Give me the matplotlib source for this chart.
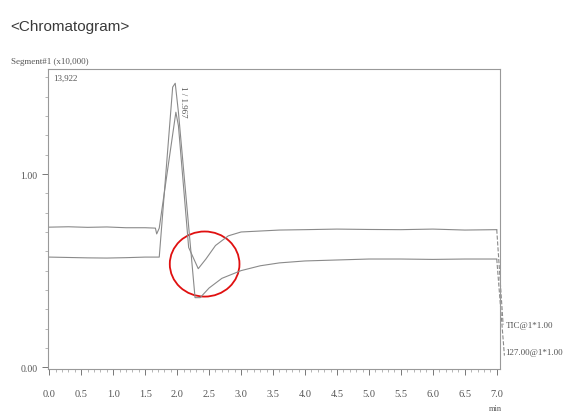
import matplotlib
matplotlib.use('Agg')
import matplotlib.pyplot as plt
from matplotlib.patches import Ellipse
from matplotlib.ticker import MultipleLocator

# TIC trace (upper baseline), x10,000
tic_t = [0.0, 0.3, 0.6, 0.9, 1.2, 1.5, 1.66, 1.68, 1.72, 1.98, 2.02, 2.18, 2.33, 2.45,
         2.6, 2.8, 3.0, 3.3, 3.6, 4.0, 4.5, 5.0, 5.5, 6.0, 6.5, 7.0]
tic_v = [0.725, 0.727, 0.724, 0.726, 0.722, 0.722, 0.72, 0.69, 0.72, 1.32, 1.25, 0.62, 0.51, 0.56,
         0.63, 0.68, 0.70, 0.705, 0.71, 0.712, 0.715, 0.713, 0.712, 0.715, 0.71, 0.712]
tic_end_t = [7.0, 7.1]
tic_end_v = [0.712, 0.22]

# 127.00 trace (lower baseline)
ion_t = [0.0, 0.3, 0.6, 0.9, 1.2, 1.5, 1.72, 1.93, 1.97, 2.02, 2.28, 2.36, 2.5, 2.7,
         3.0, 3.3, 3.6, 4.0, 4.5, 5.0, 5.5, 6.0, 6.5, 7.0]
ion_v = [0.57, 0.568, 0.566, 0.565, 0.567, 0.57, 0.57, 1.45, 1.47, 1.32, 0.36, 0.36, 0.41, 0.46,
         0.50, 0.525, 0.54, 0.55, 0.555, 0.56, 0.56, 0.558, 0.56, 0.56]
ion_end_t = [7.0, 7.12]
ion_end_v = [0.56, 0.06]

x_ticks = [0.0, 0.5, 1.0, 1.5, 2.0, 2.5, 3.0, 3.5, 4.0, 4.5, 5.0, 5.5, 6.0, 6.5, 7.0]
y_ticks = [0.0, 1.0]

fig = plt.figure(figsize=(5.63, 4.14), dpi=100)
ax = fig.add_axes([0.0853, 0.106, 0.8027, 0.725])
serif = ['Liberation Serif', 'DejaVu Serif']
col = '#8a8a8a'

ax.plot(tic_t, tic_v, color=col, lw=0.8)
ax.plot(ion_t, ion_v, color=col, lw=0.8)
ax.plot(tic_end_t, tic_end_v, color=col, lw=0.8, ls='--', clip_on=False)
ax.plot(ion_end_t, ion_end_v, color=col, lw=0.8, ls='--', clip_on=False)

ax.add_patch(Ellipse((2.43, 0.534), 1.09, 0.337, fill=False, ec='#e01010', lw=1.3))

ax.set_xlim(-0.02, 7.05)
ax.set_ylim(-0.01, 1.544)
ax.set_xticks(x_ticks)
ax.set_xticklabels(['%.1f' % v for v in x_ticks], family=serif, fontsize=7.5, color='#555555')
ax.set_yticks(y_ticks)
ax.set_yticklabels(['0.00', '1.00'], family=serif, fontsize=7, color='#555555')
ax.xaxis.set_minor_locator(MultipleLocator(0.1))
ax.yaxis.set_minor_locator(MultipleLocator(0.1))
ax.tick_params(which='major', length=4, width=0.7, color='#777777')
ax.tick_params(which='minor', length=2, width=0.5, color='#999999')
ax.tick_params(axis='x', which='major', pad=10)
for s in ax.spines.values():
    s.set_color('#999999')
    s.set_linewidth(0.8)

fig.text(0.018, 0.925, '<Chromatogram>', family='Liberation Sans', fontsize=11,
         color='#3a3a3a')
fig.text(0.02, 0.845, 'Segment#1 (x10,000)', family=serif, fontsize=6.5, color='#555555')
ax.text(0.012, 0.985, '13,922', transform=ax.transAxes, family=serif, fontsize=6.5,
        color='#555555', va='top')
ax.text(2.09, 1.46, '1 / 1.967', family=serif, fontsize=6.5, color='#555555',
        rotation=-90, ha='center', va='top')
ax.text(7.14, 0.22, 'TIC@1*1.00', family=serif, fontsize=6.5, color='#555555',
        va='center', clip_on=False)
ax.text(7.14, 0.08, '127.00@1*1.00', family=serif, fontsize=6.5, color='#555555',
        va='center', clip_on=False)
fig.text(0.868, 0.008, 'min', family=serif, fontsize=6, color='#555555')

fig.savefig('out.png', dpi=100)
